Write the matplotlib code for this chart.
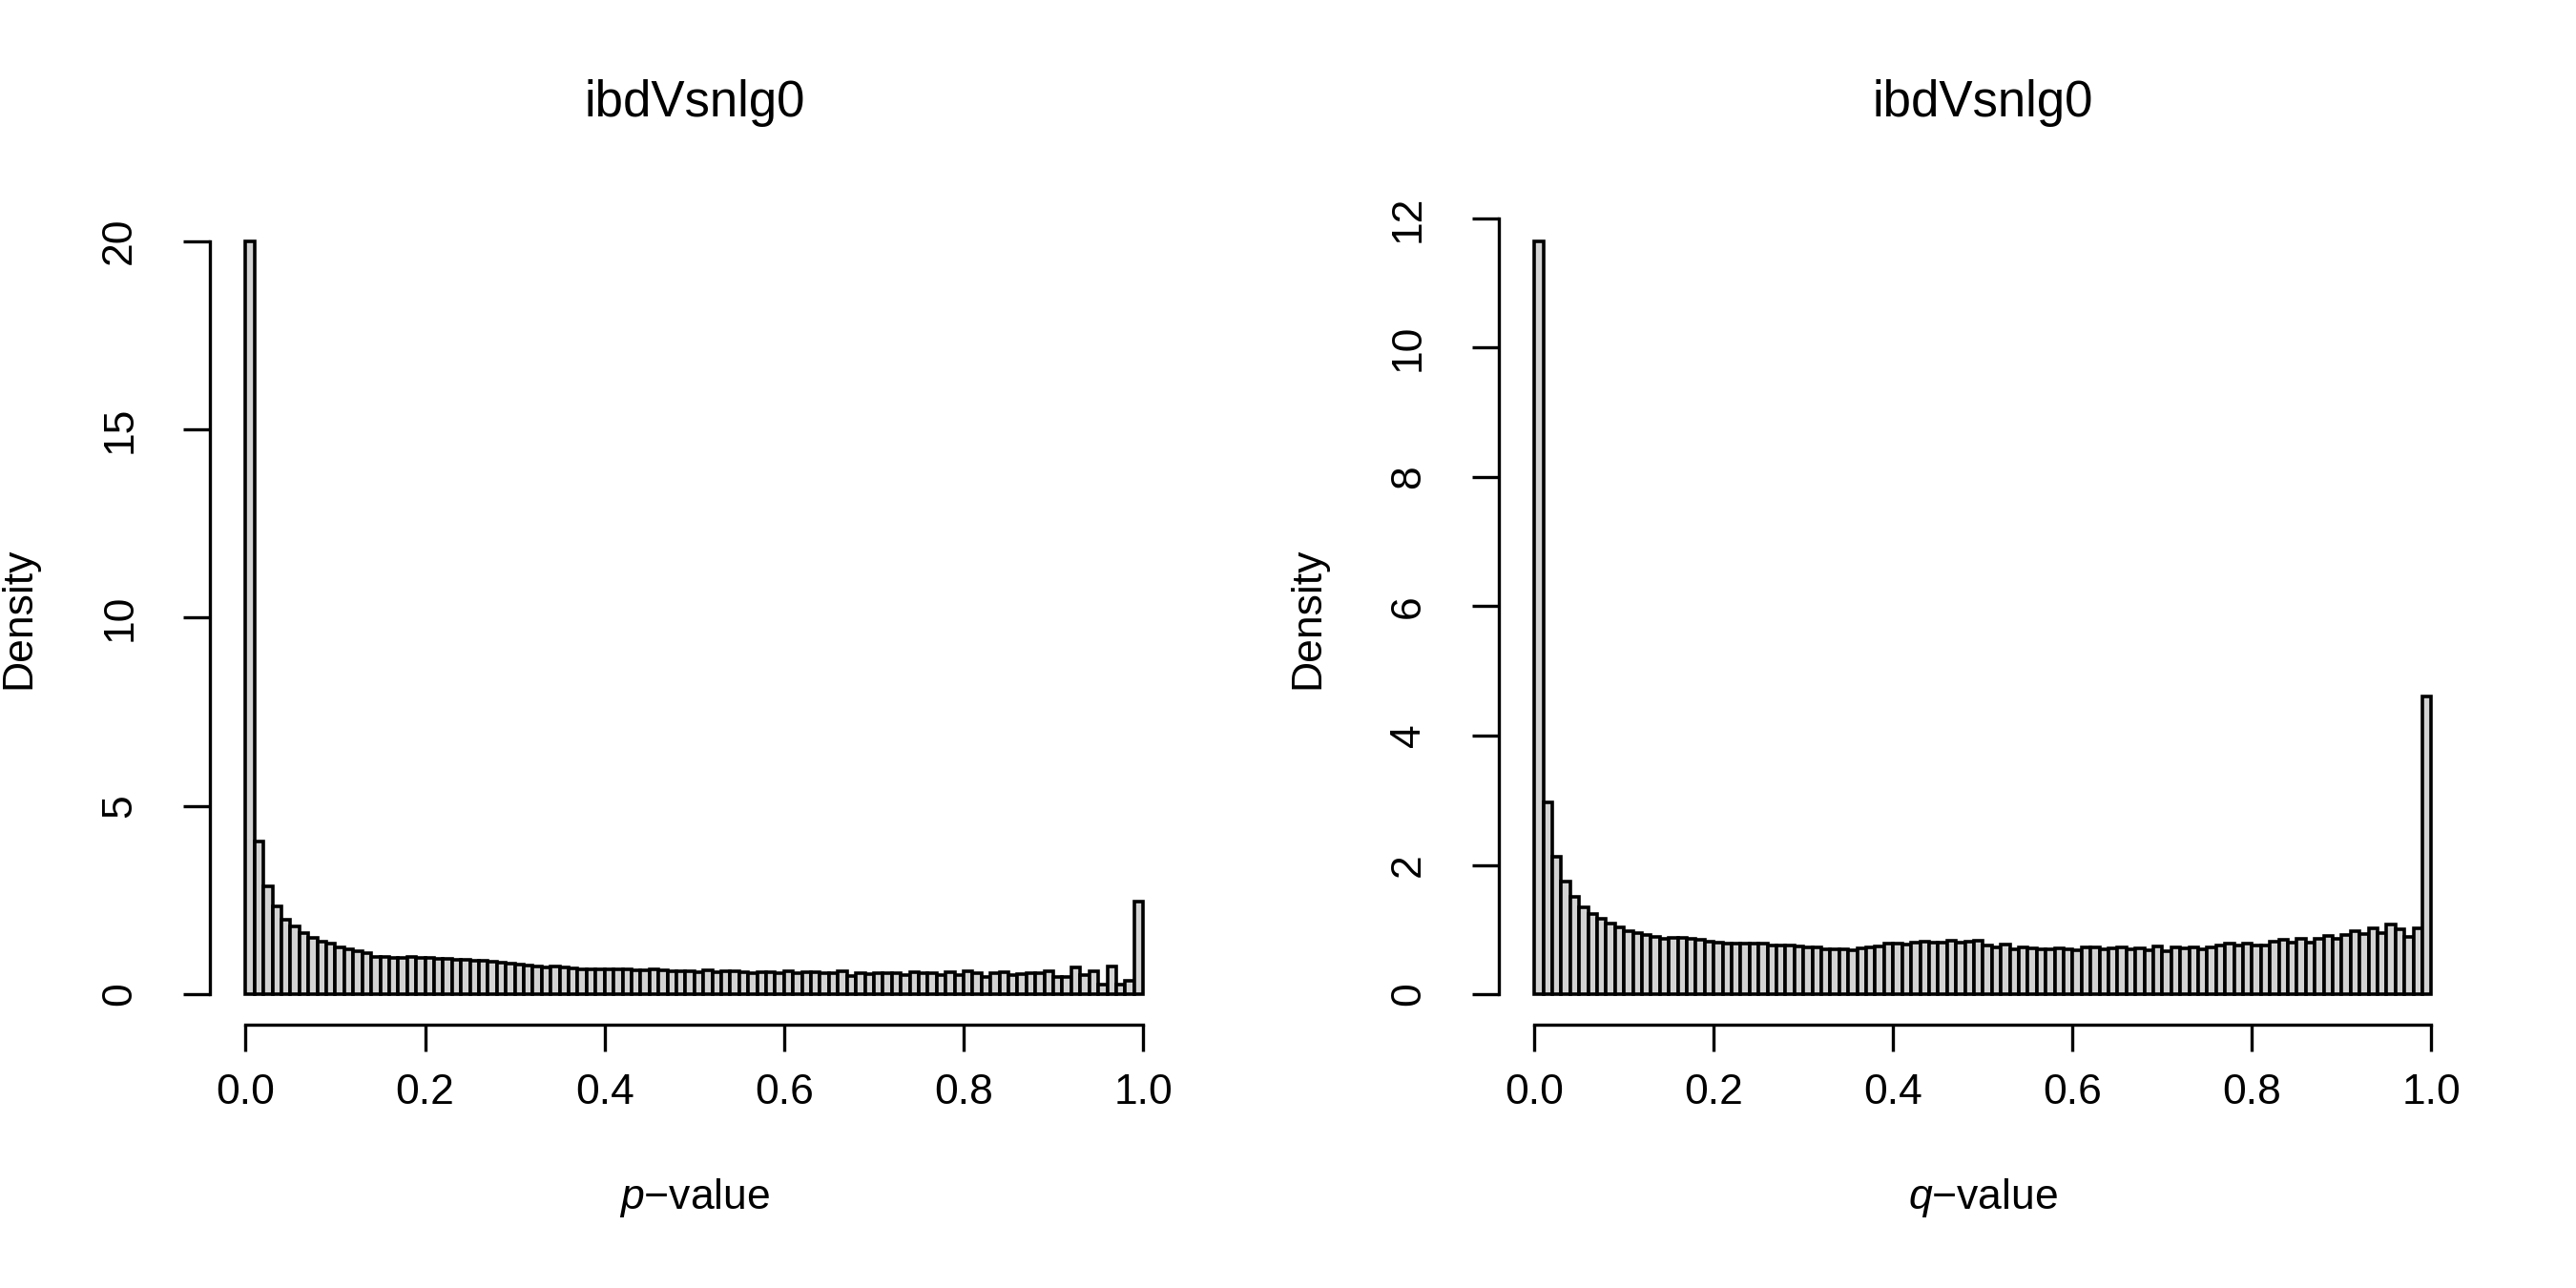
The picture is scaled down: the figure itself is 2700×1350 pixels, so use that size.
"""Two density histograms (p-values and q-values) in R's base-graphics look."""

import matplotlib
matplotlib.use('Agg')
import matplotlib.pyplot as plt
import numpy as np

plt.rcParams['font.family'] = ['Liberation Sans', 'DejaVu Sans']
plt.rcParams['mathtext.fontset'] = 'custom'
plt.rcParams['mathtext.rm'] = 'Liberation Sans'
plt.rcParams['mathtext.it'] = 'Liberation Sans:italic'

TITLE = 'ibdVsnlg0'
N_BINS = 100

# density per 0.01-wide bin
P_DENSITY = [
    20.0, 4.06, 2.86, 2.32, 1.99, 1.81, 1.62, 1.50, 1.39, 1.34,
    1.24, 1.20, 1.13, 1.08, 1.00, 0.98, 0.97, 0.97, 0.98, 0.97,
    0.96, 0.94, 0.94, 0.92, 0.91, 0.90, 0.89, 0.86, 0.85, 0.80,
    0.79, 0.77, 0.74, 0.71, 0.73, 0.70, 0.68, 0.67, 0.67, 0.66,
    0.67, 0.65, 0.65, 0.64, 0.64, 0.65, 0.63, 0.61, 0.61, 0.62,
    0.59, 0.63, 0.58, 0.60, 0.60, 0.59, 0.57, 0.58, 0.59, 0.57,
    0.61, 0.55, 0.58, 0.58, 0.57, 0.57, 0.60, 0.49, 0.57, 0.53,
    0.55, 0.56, 0.57, 0.52, 0.59, 0.55, 0.55, 0.50, 0.58, 0.52,
    0.61, 0.56, 0.47, 0.57, 0.59, 0.52, 0.54, 0.55, 0.57, 0.60,
    0.45, 0.45, 0.70, 0.52, 0.62, 0.25, 0.74, 0.25, 0.35, 2.47,
]

Q_DENSITY = [
    11.65, 2.96, 2.12, 1.74, 1.50, 1.34, 1.24, 1.16, 1.09, 1.03,
    0.98, 0.94, 0.91, 0.89, 0.86, 0.87, 0.87, 0.86, 0.84, 0.81,
    0.80, 0.79, 0.78, 0.78, 0.78, 0.78, 0.75, 0.75, 0.75, 0.74,
    0.72, 0.73, 0.70, 0.69, 0.70, 0.68, 0.71, 0.72, 0.74, 0.78,
    0.78, 0.77, 0.80, 0.81, 0.80, 0.80, 0.83, 0.80, 0.82, 0.83,
    0.76, 0.73, 0.77, 0.70, 0.72, 0.71, 0.69, 0.70, 0.71, 0.69,
    0.68, 0.72, 0.72, 0.69, 0.71, 0.72, 0.70, 0.71, 0.68, 0.74,
    0.66, 0.73, 0.71, 0.73, 0.70, 0.72, 0.75, 0.78, 0.75, 0.78,
    0.75, 0.76, 0.82, 0.84, 0.80, 0.85, 0.80, 0.85, 0.90, 0.85,
    0.91, 0.98, 0.93, 1.02, 0.95, 1.08, 1.01, 0.88, 1.02, 4.60,
]

P_YTICKS = [0, 5, 10, 15, 20]
Q_YTICKS = [0, 2, 4, 6, 8, 10, 12]
X_TICKS = [0.0, 0.2, 0.4, 0.6, 0.8, 1.0]

edges = np.linspace(0, 1, N_BINS + 1)

fig = plt.figure(figsize=(13.5, 6.75), dpi=200)
ax_p = fig.add_axes([0.0814, 0.2047, 0.3763, 0.6316])
ax_q = fig.add_axes([0.5817, 0.2047, 0.3761, 0.6316])

panels = [
    (ax_p, P_DENSITY, P_YTICKS, 'p'),
    (ax_q, Q_DENSITY, Q_YTICKS, 'q'),
]

for ax, dens, yticks, letter in panels:
    dens = np.array(dens)
    ax.bar(edges[:-1], dens, width=np.diff(edges), align='edge',
           color='lightgray', edgecolor='black', linewidth=1.3)
    # R pads both ranges by 4%
    ymax = dens.max()
    ax.set_xlim(-0.04, 1.04)
    ax.set_ylim(-0.04 * ymax, 1.04 * ymax)

    for side in ['top', 'right']:
        ax.spines[side].set_visible(False)
    ax.spines['left'].set_bounds(yticks[0], yticks[-1])
    ax.spines['bottom'].set_bounds(X_TICKS[0], X_TICKS[-1])
    for side in ['left', 'bottom']:
        ax.spines[side].set_linewidth(1.2)

    ax.set_xticks(X_TICKS)
    ax.set_xticklabels([f'{v:.1f}' for v in X_TICKS])
    ax.set_yticks(yticks)
    ax.set_yticklabels([str(v) for v in yticks])
    ax.tick_params(length=10, width=1.2, labelsize=16)
    ax.tick_params(axis='x', pad=8.6)
    ax.tick_params(axis='y', pad=16.5, labelrotation=90)
    for lab in ax.get_yticklabels():
        lab.set_va('center')

    ax.set_title(TITLE, fontsize=19, pad=35.5)
    ax.set_xlabel(f'$\\mathit{{{letter}}}$\u2212value', fontsize=16)
    ax.set_ylabel('Density', fontsize=16)
    ax.xaxis.set_label_coords(0.5, -0.213)
    ax.xaxis.label.set_va('center')
    ax.yaxis.set_label_coords(-0.1966, 0.5)
    ax.yaxis.label.set_va('center')

fig.savefig('out.png', dpi=200, facecolor='white')
